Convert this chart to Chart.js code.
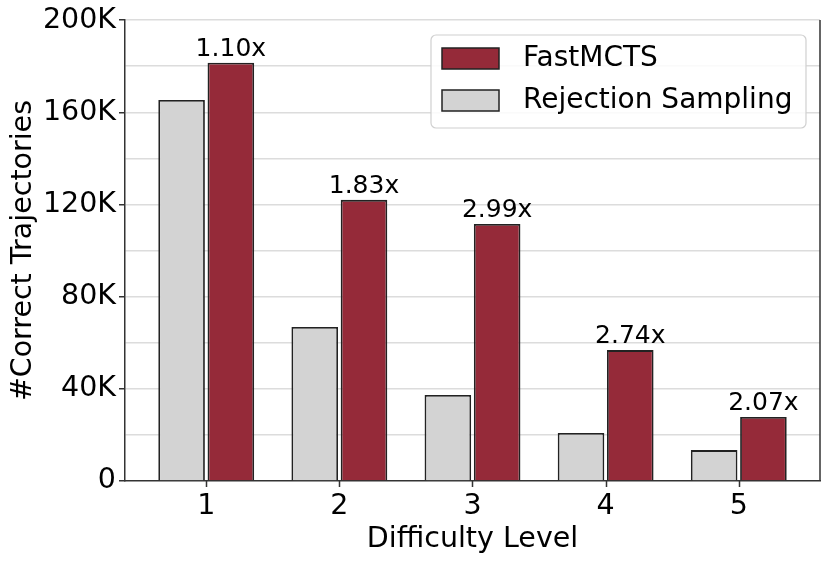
<!DOCTYPE html>
<html>
<head>
<meta charset="utf-8">
<script src="https://cdn.jsdelivr.net/npm/chart.js@4.4.1/dist/chart.umd.min.js"></script>
<style>
  html, body { margin: 0; padding: 0; background: #fff; }
  #wrap { width: 830px; height: 562px; }
</style>
</head>
<body>
<div id="wrap"><canvas id="grafico"></canvas></div>
<script>
// dados
var niveis = [1, 2, 3, 4, 5];
var rejectionSampling = [165300, 66800, 37300, 20800, 13400];
var fastMCTS = [181500, 122000, 111500, 56800, 27800];
var speedups = ["1.10x", "1.83x", "2.99x", "2.74x", "2.07x"];
var yTicks = [0, 40000, 80000, 120000, 160000, 200000];

var corVermelho = "#952a39";
var corCinza = "#d3d3d3";
var corBorda = "#222222";
var fonte = "'DejaVu Sans', sans-serif";

function pontos(valores) {
	return niveis.map(function (n, i) { return { x: n, y: valores[i] }; });
}

// rotulos acima das barras vermelhas
var pluginRotulos = {
	id: "rotulos",
	afterDatasetsDraw: function (chart) {
		var ctx = chart.ctx;
		var meta = chart.getDatasetMeta(1);
		ctx.save();
		ctx.font = "25px " + fonte;
		ctx.fillStyle = "#000";
		ctx.textAlign = "center";
		ctx.textBaseline = "bottom";
		meta.data.forEach(function (bar, i) {
			ctx.fillText(speedups[i], bar.x, bar.y - 1);
		});
		ctx.restore();
	}
};

// eixo da direita, marcas do eixo x e legenda dentro do grafico
var pluginMoldura = {
	id: "moldura",
	afterDraw: function (chart) {
		var ctx = chart.ctx;
		var area = chart.chartArea;
		var escalaX = chart.scales.x;
		ctx.save();
		ctx.strokeStyle = "#333";
		ctx.lineWidth = 1.5;
		ctx.beginPath();
		ctx.moveTo(area.right, area.top);
		ctx.lineTo(area.right, area.bottom);
		niveis.forEach(function (n) {
			var px = Math.round(escalaX.getPixelForValue(n)) + 0.5;
			ctx.moveTo(px, area.bottom);
			ctx.lineTo(px, area.bottom + 6);
		});
		ctx.stroke();

		// caixa da legenda
		var x = 431, y = 35, w = 375, h = 93, r = 5;
		ctx.fillStyle = "rgba(255,255,255,0.85)";
		ctx.strokeStyle = "#d0d0d0";
		ctx.lineWidth = 1.2;
		ctx.beginPath();
		ctx.roundRect(x, y, w, h, r);
		ctx.fill();
		ctx.stroke();

		var itens = [
			{ nome: chart.data.datasets[1].label, cor: corVermelho },
			{ nome: chart.data.datasets[0].label, cor: corCinza }
		];
		ctx.font = "28px " + fonte;
		ctx.textBaseline = "middle";
		ctx.textAlign = "left";
		itens.forEach(function (item, i) {
			var py = 48 + i * 42;
			ctx.fillStyle = item.cor;
			ctx.fillRect(442, py, 57, 21);
			ctx.strokeStyle = corBorda;
			ctx.lineWidth = 1.5;
			ctx.strokeRect(442, py, 57, 21);
			ctx.fillStyle = "#000";
			ctx.fillText(item.nome, 523, py + 11);
		});
		ctx.restore();
	}
};

new Chart(document.getElementById("grafico"), {
	type: "bar",
	data: {
		datasets: [
			{
				label: "Rejection Sampling",
				data: pontos(rejectionSampling),
				backgroundColor: corCinza,
				borderColor: corBorda,
				borderWidth: 1.8,
				borderSkipped: "bottom"
			},
			{
				label: "FastMCTS",
				data: pontos(fastMCTS),
				backgroundColor: corVermelho,
				borderColor: corBorda,
				borderWidth: 1.8,
				borderSkipped: "bottom"
			}
		]
	},
	options: {
		responsive: true,
		maintainAspectRatio: false,
		animation: false,
		categoryPercentage: 0.74,
		barPercentage: 0.946,
		layout: { padding: { top: 20, right: 10, left: 0, bottom: 0 } },
		scales: {
			x: {
				type: "linear",
				offset: false,
				min: 0.39,
				max: 5.61,
				afterBuildTicks: function (scale) {
					scale.ticks = niveis.map(function (n) { return { value: n }; });
				},
				grid: {
					offset: false,
					drawOnChartArea: false,
					drawTicks: false
				},
				border: { color: "#333", width: 1.5 },
				ticks: {
					color: "#000",
					font: { family: fonte, size: 28.5 },
					padding: 8,
					autoSkip: false,
					maxRotation: 0,
					callback: function (v) { return String(v); }
				},
				title: {
					display: true,
					text: "Difficulty Level",
					color: "#000",
					font: { family: fonte, size: 28.5 },
					padding: { top: 0, bottom: 5 }
				},
				afterFit: function (scale) { scale.height = 81; }
			},
			y: {
				min: 0,
				max: 200000,
				afterBuildTicks: function (scale) {
					var t = [];
					for (var v = 0; v <= 200000; v += 20000) t.push({ value: v });
					scale.ticks = t;
				},
				grid: {
					color: function (c) { return c.tick && c.tick.value === 0 ? "rgba(0,0,0,0)" : "#dcdcdc"; },
					lineWidth: 1.5,
					tickLength: 6,
					tickWidth: 1.5,
					tickColor: function (c) {
						return c.tick && yTicks.indexOf(c.tick.value) >= 0 ? "#333" : "rgba(0,0,0,0)";
					}
				},
				border: { color: "#333", width: 1.5 },
				ticks: {
					color: "#000",
					font: { family: fonte, size: 28.5 },
					padding: 3,
					autoSkip: false,
					callback: function (v) {
						if (yTicks.indexOf(v) < 0) return "";
						return v === 0 ? "0" : (v / 1000) + "K";
					}
				},
				title: {
					display: true,
					text: "#Correct Trajectories",
					color: "#000",
					font: { family: fonte, size: 28.5 },
					padding: { top: 6, bottom: 4 }
				},
				afterFit: function (scale) { scale.width = 125; }
			}
		},
		plugins: {
			legend: { display: false },
			tooltip: { enabled: false }
		}
	},
	plugins: [pluginRotulos, pluginMoldura]
});
</script>
</body>
</html>
